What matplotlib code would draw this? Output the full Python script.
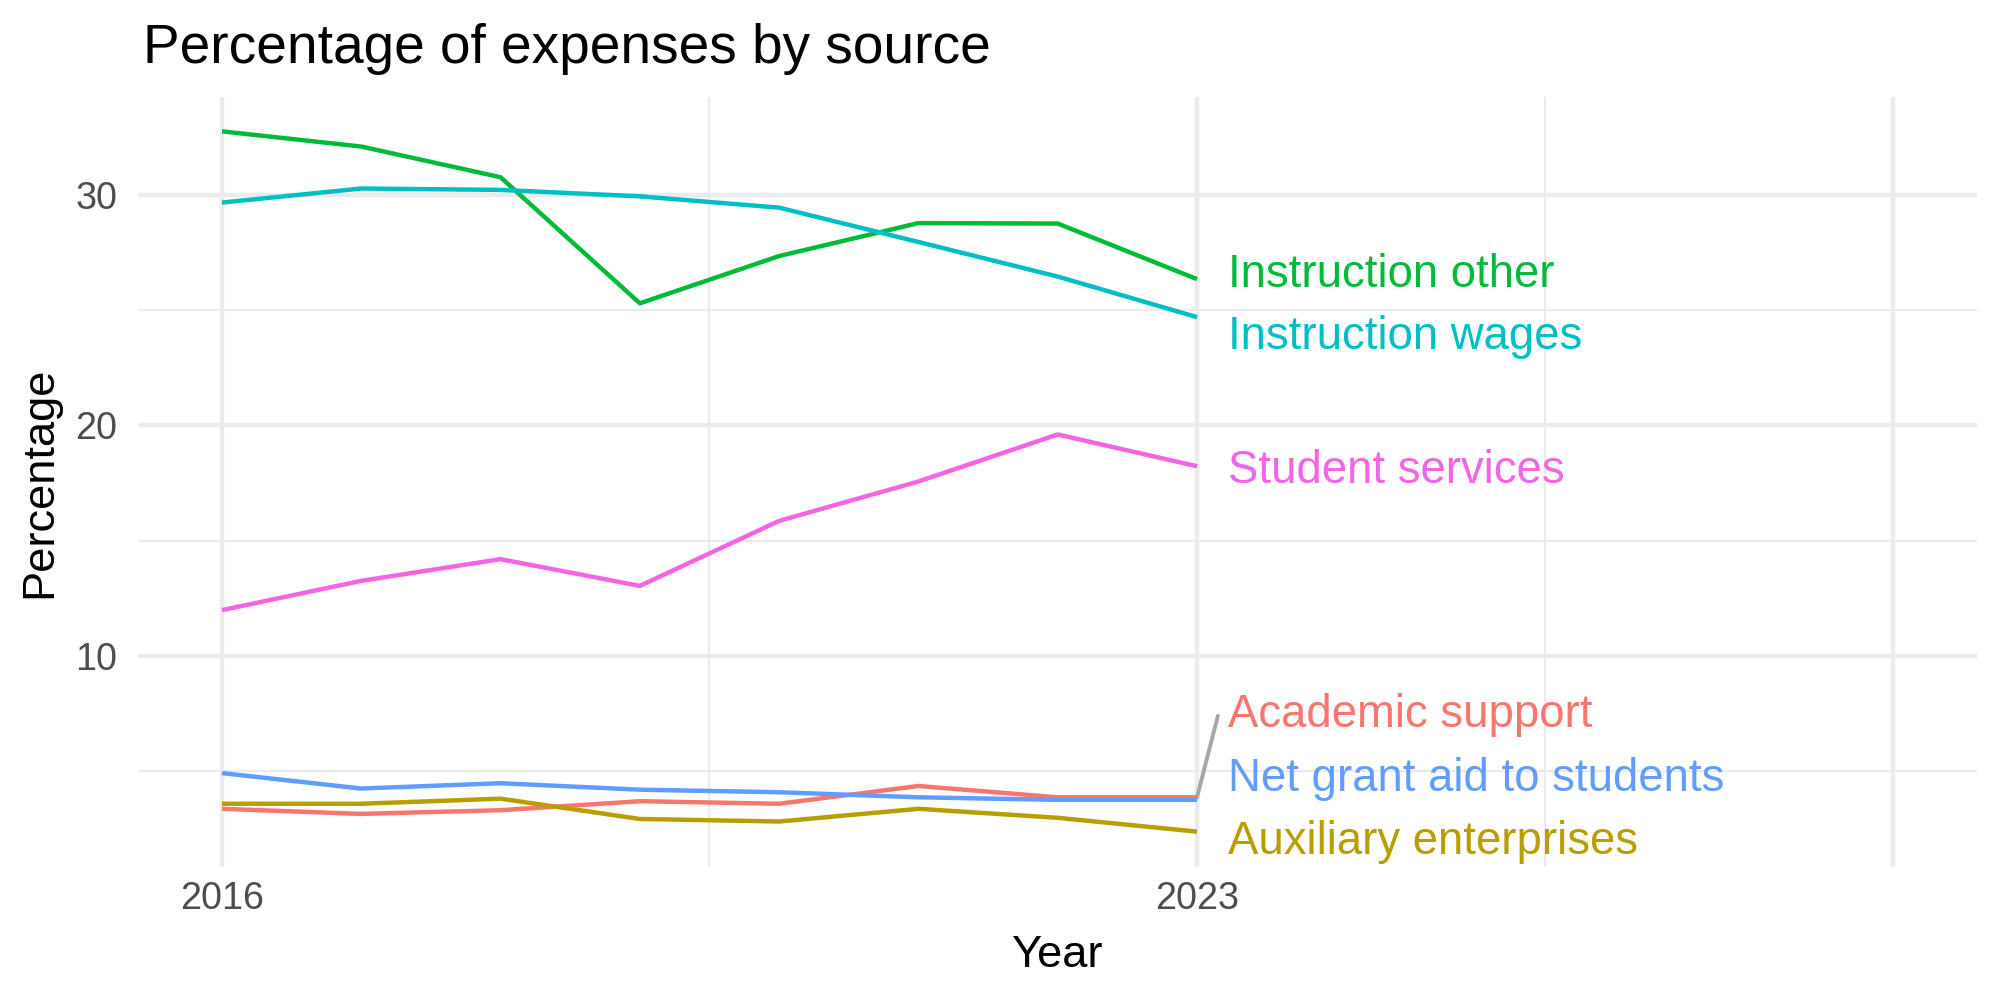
import matplotlib
matplotlib.use("Agg")
import matplotlib.pyplot as plt

plt.rcParams['font.family'] = ['Liberation Sans', 'DejaVu Sans']

years = [2016, 2017, 2018, 2019, 2020, 2021, 2022, 2023]

series_names = [
    "Academic support",
    "Auxiliary enterprises",
    "Instruction other",
    "Instruction wages",
    "Net grant aid to students",
    "Student services",
]

academic_support = [3.37, 3.15, 3.31, 3.70, 3.59, 4.36, 3.87, 3.87]
auxiliary_enterprises = [3.59, 3.59, 3.81, 2.93, 2.82, 3.37, 2.98, 2.38]
instruction_other = [32.76, 32.10, 30.77, 25.30, 27.35, 28.78, 28.76, 26.35]
instruction_wages = [29.67, 30.28, 30.22, 29.94, 29.45, 27.96, 26.46, 24.70]
net_grant_aid = [4.92, 4.25, 4.48, 4.20, 4.09, 3.87, 3.76, 3.76]
student_services = [11.99, 13.26, 14.20, 13.04, 15.86, 17.57, 19.61, 18.23]

series_values = [academic_support, auxiliary_enterprises, instruction_other,
                 instruction_wages, net_grant_aid, student_services]

colors = ["#F8766D", "#B79F00", "#00BA38", "#00BFC4", "#619CFF", "#F564E3"]

# repelled label placement (baseline y of each label, in data units)
label_x = 2023.22
label_y = [6.90, 1.43, 26.01, 23.30, 4.16, 17.49]

x_tick_labels = ["2016", "2023"]
x_tick_pos = [2016, 2023]
x_major_grid = [2016, 2023, 2028]
x_minor_grid = [2019.5, 2025.5]
y_major = [10, 20, 30]
y_minor = [5, 15, 25]

fig = plt.figure(figsize=(10, 5), dpi=200)
ax = fig.add_axes([0.069, 0.133, 0.9195, 0.770])

grid_c = "#EBEBEB"
for x in x_major_grid:
    ax.axvline(x, color=grid_c, lw=1.55, zorder=0)
for x in x_minor_grid:
    ax.axvline(x, color=grid_c, lw=0.78, zorder=0)
for y in y_major:
    ax.axhline(y, color=grid_c, lw=1.55, zorder=0)
for y in y_minor:
    ax.axhline(y, color=grid_c, lw=0.78, zorder=0)

for name, vals, c in zip(series_names, series_values, colors):
    ax.plot(years, vals, color=c, lw=1.6, solid_joinstyle='round',
            solid_capstyle='butt', zorder=3)

# repel segment for Academic support
ax.plot([years[-1], 2023.15], [academic_support[-1], 7.40], color="#A6A6A6",
        lw=1.4, zorder=2, solid_capstyle='round')

for name, ly, c in zip(series_names, label_y, colors):
    ax.text(label_x, ly, name, color=c, fontsize=16.4, ha='left', va='baseline',
            zorder=4)

ax.set_xlim(2015.397, 2028.6)
ax.set_ylim(0.846, 34.25)

ax.set_xticks(x_tick_pos)
ax.set_xticklabels(x_tick_labels)
ax.set_yticks(y_major)
ax.set_yticklabels([str(v) for v in y_major])
ax.tick_params(axis='both', length=0, labelsize=13.6, labelcolor="#4D4D4D")
ax.tick_params(axis='x', pad=5.0)
ax.tick_params(axis='y', pad=7.4)
for s in ax.spines.values():
    s.set_visible(False)

ax.set_xlabel("Year", fontsize=16.3, color="black")
ax.xaxis.set_label_coords(0.5, -0.1299)
ax.xaxis.label.set_va('baseline')
ax.set_ylabel("Percentage", fontsize=16.3, color="black")
ax.yaxis.set_label_coords(-0.0533, 0.5)
ax.yaxis.label.set_va('center')

fig.text(0.0715, 1 - 63 / 1000, "Percentage of expenses by source",
         fontsize=19.8, ha='left', va='baseline', color="black")

fig.savefig("out.png", dpi=200, facecolor="white")
